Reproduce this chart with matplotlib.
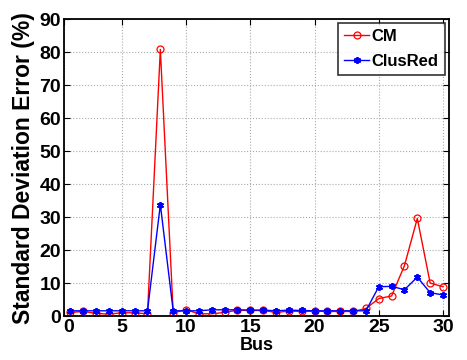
import matplotlib

matplotlib.use("Agg")
import matplotlib.pyplot as plt
import matplotlib.transforms as mtransforms
import numpy as np

# bus index and errors (%)
bus = np.arange(1, 31)
cm_err = [1.1, 1.4, 0.8, 0.6, 1.0, 1.0, 0.7, 80.8, 1.0, 1.9,
          0.7, 0.7, 1.1, 1.8, 1.7, 1.7, 1.1, 1.5, 1.4, 1.5,
          1.4, 1.4, 1.4, 2.3, 5.3, 6.1, 15.3, 29.6, 10.0, 8.9]
clusred_err = [1.6, 1.6, 1.6, 1.6, 1.6, 1.6, 1.6, 33.8, 1.6, 1.6,
               1.6, 1.9, 1.9, 1.9, 1.8, 1.8, 1.6, 1.8, 1.7, 1.6,
               1.6, 1.6, 1.6, 1.6, 8.9, 9.0, 8.0, 11.8, 7.1, 6.4]
xtick_pos = [0.5, 5, 10, 15, 20, 25, 30]
xtick_lab = ["0", "5", "10", "15", "20", "25", "30"]

plt.rcParams["font.family"] = ["Liberation Sans", "DejaVu Sans"]
plt.rcParams["font.weight"] = "bold"

fig = plt.figure(figsize=(4.67, 3.6), dpi=100)
ax = fig.add_axes([0.137, 0.122, 0.824, 0.825])

ax.plot(bus, cm_err, color="red", marker="o", markerfacecolor="none",
        markersize=5, markeredgewidth=0.9, linewidth=1, label="CM")
# matlab-style asterisk marker
ax.plot(bus, clusred_err, color="blue", marker=(6, 2, 0), markersize=5,
        markeredgewidth=1.3, linewidth=1, label="ClusRed")

ax.set_xlim(0.5, 30.45)
ax.set_ylim(0, 90)
ax.set_xticks(xtick_pos)
ax.set_xticklabels(xtick_lab)
ax.set_yticks(np.arange(0, 91, 10))
ax.tick_params(direction="in", top=True, right=True, labelsize=14, length=4,
               width=0.8, pad=2)
for lab in ax.get_xticklabels() + ax.get_yticklabels():
    lab.set_fontweight("bold")

# nudge the first x label right so it clears the y "0"
first = ax.get_xticklabels()[0]
first.set_transform(first.get_transform() +
                    mtransforms.ScaledTranslation(5 / 100, 0, fig.dpi_scale_trans))

ax.grid(True, linestyle=":", color="#aaaaaa", linewidth=0.8)
for spine in ax.spines.values():
    spine.set_linewidth(1.3)

ax.set_xlabel("Bus", fontsize=13, fontweight="bold", labelpad=1)
ax.set_ylabel("Standard Deviation Error (%)", fontsize=16.5, fontweight="bold", labelpad=3)

leg = ax.legend(loc="upper right", fontsize=12, frameon=True, fancybox=False,
                handlelength=1.5, handletextpad=0.15, borderpad=0.35,
                borderaxespad=0.25, labelspacing=0.6)
leg.get_frame().set_edgecolor("black")
leg.get_frame().set_linewidth(1.2)
for t in leg.get_texts():
    t.set_fontweight("bold")

fig.savefig("out.png", dpi=100)
